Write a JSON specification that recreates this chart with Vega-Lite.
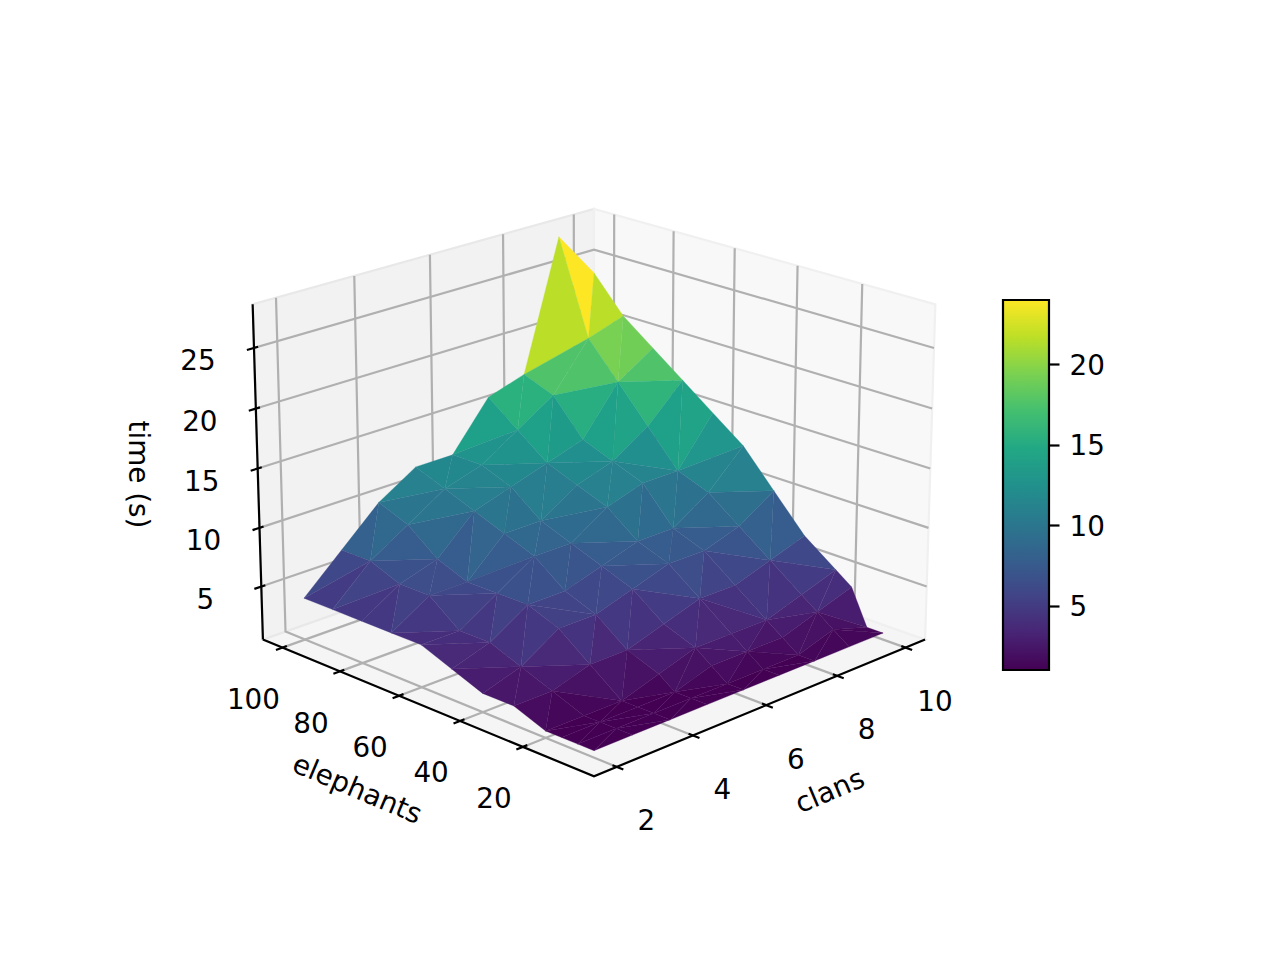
{"$schema":"https://vega.github.io/schema/vega-lite/v6.json","background":"white","padding":0,"spacing":0,"config":{"view":{"stroke":null},"text":{"font":"DejaVu Sans","fontSize":27.8,"fill":"black"},"axis":{"labelFont":"DejaVu Sans","labelFontSize":27.8,"labelColor":"black"}},
"datasets":{
"vertices":[
{"id":2100,"clans":2,"elephants":100,"time":4},{"id":3100,"clans":3,"elephants":100,"time":7},{"id":4100,"clans":4,"elephants":100,"time":10},{"id":5100,"clans":5,"elephants":100,"time":12},{"id":6100,"clans":6,"elephants":100,"time":12},{"id":7100,"clans":7,"elephants":100,"time":16},{"id":8100,"clans":8,"elephants":100,"time":17},{"id":9100,"clans":9,"elephants":100,"time":28},{"id":10100,"clans":10,"elephants":100,"time":24},
{"id":2090,"clans":2,"elephants":90,"time":4},{"id":3090,"clans":3,"elephants":90,"time":7},{"id":4090,"clans":4,"elephants":90,"time":9},{"id":5090,"clans":5,"elephants":90,"time":11},{"id":6090,"clans":6,"elephants":90,"time":12},{"id":7090,"clans":7,"elephants":90,"time":14},{"id":8090,"clans":8,"elephants":90,"time":16},{"id":9090,"clans":9,"elephants":90,"time":20},{"id":10090,"clans":10,"elephants":90,"time":21},
{"id":2080,"clans":2,"elephants":80,"time":4},{"id":3080,"clans":3,"elephants":80,"time":6},{"id":4080,"clans":4,"elephants":80,"time":7},{"id":5080,"clans":5,"elephants":80,"time":10},{"id":6080,"clans":6,"elephants":80,"time":11},{"id":7080,"clans":7,"elephants":80,"time":12},{"id":8080,"clans":8,"elephants":80,"time":13},{"id":9080,"clans":9,"elephants":80,"time":17},{"id":10080,"clans":10,"elephants":80,"time":19},
{"id":2070,"clans":2,"elephants":70,"time":4},{"id":3070,"clans":3,"elephants":70,"time":6},{"id":4070,"clans":4,"elephants":70,"time":6},{"id":5070,"clans":5,"elephants":70,"time":9},{"id":6070,"clans":6,"elephants":70,"time":9},{"id":7070,"clans":7,"elephants":70,"time":11},{"id":8070,"clans":8,"elephants":70,"time":12},{"id":9070,"clans":9,"elephants":70,"time":14},{"id":10070,"clans":10,"elephants":70,"time":17},
{"id":2060,"clans":2,"elephants":60,"time":4},{"id":3060,"clans":3,"elephants":60,"time":4},{"id":4060,"clans":4,"elephants":60,"time":6},{"id":5060,"clans":5,"elephants":60,"time":8},{"id":6060,"clans":6,"elephants":60,"time":8},{"id":7060,"clans":7,"elephants":60,"time":10},{"id":8060,"clans":8,"elephants":60,"time":11},{"id":9060,"clans":9,"elephants":60,"time":11},{"id":10060,"clans":10,"elephants":60,"time":15},
{"id":2050,"clans":2,"elephants":50,"time":3},{"id":3050,"clans":3,"elephants":50,"time":4},{"id":4050,"clans":4,"elephants":50,"time":6},{"id":5050,"clans":5,"elephants":50,"time":6},{"id":6050,"clans":6,"elephants":50,"time":7},{"id":7050,"clans":7,"elephants":50,"time":8},{"id":8050,"clans":8,"elephants":50,"time":8},{"id":9050,"clans":9,"elephants":50,"time":10},{"id":10050,"clans":10,"elephants":50,"time":13},
{"id":2040,"clans":2,"elephants":40,"time":2},{"id":3040,"clans":3,"elephants":40,"time":3},{"id":4040,"clans":4,"elephants":40,"time":5},{"id":5040,"clans":5,"elephants":40,"time":5},{"id":6040,"clans":6,"elephants":40,"time":6},{"id":7040,"clans":7,"elephants":40,"time":7},{"id":8040,"clans":8,"elephants":40,"time":7},{"id":9040,"clans":9,"elephants":40,"time":8},{"id":10040,"clans":10,"elephants":40,"time":10},
{"id":2030,"clans":2,"elephants":30,"time":2},{"id":3030,"clans":3,"elephants":30,"time":2},{"id":4030,"clans":4,"elephants":30,"time":3},{"id":5030,"clans":5,"elephants":30,"time":3},{"id":6030,"clans":6,"elephants":30,"time":4},{"id":7030,"clans":7,"elephants":30,"time":5},{"id":8030,"clans":8,"elephants":30,"time":5},{"id":9030,"clans":9,"elephants":30,"time":6},{"id":10030,"clans":10,"elephants":30,"time":7},
{"id":2020,"clans":2,"elephants":20,"time":1},{"id":3020,"clans":3,"elephants":20,"time":1},{"id":4020,"clans":4,"elephants":20,"time":1},{"id":5020,"clans":5,"elephants":20,"time":2},{"id":6020,"clans":6,"elephants":20,"time":3},{"id":7020,"clans":7,"elephants":20,"time":3},{"id":8020,"clans":8,"elephants":20,"time":3},{"id":9020,"clans":9,"elephants":20,"time":4},{"id":10020,"clans":10,"elephants":20,"time":5},
{"id":2015,"clans":2,"elephants":15,"time":1},{"id":3015,"clans":3,"elephants":15,"time":1},{"id":4015,"clans":4,"elephants":15,"time":1},{"id":5015,"clans":5,"elephants":15,"time":1},{"id":6015,"clans":6,"elephants":15,"time":2},{"id":7015,"clans":7,"elephants":15,"time":2},{"id":8015,"clans":8,"elephants":15,"time":2},{"id":9015,"clans":9,"elephants":15,"time":3},{"id":10015,"clans":10,"elephants":15,"time":4},
{"id":2010,"clans":2,"elephants":10,"time":1},{"id":3010,"clans":3,"elephants":10,"time":1},{"id":4010,"clans":4,"elephants":10,"time":1},{"id":5010,"clans":5,"elephants":10,"time":1},{"id":6010,"clans":6,"elephants":10,"time":1},{"id":7010,"clans":7,"elephants":10,"time":1},{"id":8010,"clans":8,"elephants":10,"time":1},{"id":9010,"clans":9,"elephants":10,"time":2},{"id":10010,"clans":10,"elephants":10,"time":1},
{"id":2005,"clans":2,"elephants":5,"time":1},{"id":3005,"clans":3,"elephants":5,"time":1},{"id":4005,"clans":4,"elephants":5,"time":1},{"id":5005,"clans":5,"elephants":5,"time":1},{"id":6005,"clans":6,"elephants":5,"time":1},{"id":7005,"clans":7,"elephants":5,"time":1},{"id":8005,"clans":8,"elephants":5,"time":1},{"id":9005,"clans":9,"elephants":5,"time":1},{"id":10005,"clans":10,"elephants":5,"time":1}
],
"triangles":[
{"v":[9100,10100,9090]},{"v":[10100,10090,9090]},{"v":[8100,9100,9090]},{"v":[8100,8090,9090]},{"v":[7100,8100,7090]},{"v":[8100,8090,7090]},{"v":[6100,7100,7090]},{"v":[6100,6090,7090]},{"v":[5100,6100,5090]},{"v":[6100,6090,5090]},{"v":[4100,5100,5090]},{"v":[4100,4090,5090]},{"v":[3100,4100,3090]},{"v":[4100,4090,3090]},{"v":[2100,3100,3090]},{"v":[2100,2090,3090]},
{"v":[9090,10090,9080]},{"v":[10090,10080,9080]},{"v":[8090,9090,9080]},{"v":[8090,8080,9080]},{"v":[7090,8090,7080]},{"v":[8090,8080,7080]},{"v":[6090,7090,7080]},{"v":[6090,6080,7080]},{"v":[5090,6090,6080]},{"v":[5090,5080,6080]},{"v":[4090,5090,5080]},{"v":[4090,4080,5080]},{"v":[3090,4090,4080]},{"v":[3090,3080,4080]},{"v":[2090,3090,3080]},{"v":[2090,2080,3080]},
{"v":[9080,10080,10070]},{"v":[9080,9070,10070]},{"v":[8080,9080,8070]},{"v":[9080,9070,8070]},{"v":[7080,8080,8070]},{"v":[7080,7070,8070]},{"v":[6080,7080,6070]},{"v":[7080,7070,6070]},{"v":[5080,6080,5070]},{"v":[6080,6070,5070]},{"v":[4080,5080,4070]},{"v":[5080,5070,4070]},{"v":[3080,4080,3070]},{"v":[4080,4070,3070]},{"v":[2080,3080,2070]},{"v":[3080,3070,2070]},
{"v":[9070,10070,9060]},{"v":[10070,10060,9060]},{"v":[8070,9070,9060]},{"v":[8070,8060,9060]},{"v":[7070,8070,7060]},{"v":[8070,8060,7060]},{"v":[6070,7070,7060]},{"v":[6070,6060,7060]},{"v":[5070,6070,5060]},{"v":[6070,6060,5060]},{"v":[4070,5070,5060]},{"v":[4070,4060,5060]},{"v":[3070,4070,4060]},{"v":[3070,3060,4060]},{"v":[2070,3070,3060]},{"v":[2070,2060,3060]},
{"v":[9060,10060,10050]},{"v":[9060,9050,10050]},{"v":[8060,9060,8050]},{"v":[9060,9050,8050]},{"v":[7060,8060,7050]},{"v":[8060,8050,7050]},{"v":[6060,7060,7050]},{"v":[6060,6050,7050]},{"v":[5060,6060,5050]},{"v":[6060,6050,5050]},{"v":[4060,5060,4050]},{"v":[5060,5050,4050]},{"v":[3060,4060,3050]},{"v":[4060,4050,3050]},{"v":[2060,3060,3050]},{"v":[2060,2050,3050]},
{"v":[9050,10050,10040]},{"v":[9050,9040,10040]},{"v":[8050,9050,9040]},{"v":[8050,8040,9040]},{"v":[7050,8050,7040]},{"v":[8050,8040,7040]},{"v":[6050,7050,7040]},{"v":[6050,6040,7040]},{"v":[5050,6050,5040]},{"v":[6050,6040,5040]},{"v":[4050,5050,5040]},{"v":[4050,4040,5040]},{"v":[3050,4050,3040]},{"v":[4050,4040,3040]},{"v":[2050,3050,3040]},{"v":[2050,2040,3040]},
{"v":[9040,10040,9030]},{"v":[10040,10030,9030]},{"v":[8040,9040,9030]},{"v":[8040,8030,9030]},{"v":[7040,8040,7030]},{"v":[8040,8030,7030]},{"v":[6040,7040,7030]},{"v":[6040,6030,7030]},{"v":[5040,6040,5030]},{"v":[6040,6030,5030]},{"v":[4040,5040,4030]},{"v":[5040,5030,4030]},{"v":[3040,4040,4030]},{"v":[3040,3030,4030]},{"v":[2040,3040,2030]},{"v":[3040,3030,2030]},
{"v":[9030,10030,10020]},{"v":[9030,9020,10020]},{"v":[8030,9030,8020]},{"v":[9030,9020,8020]},{"v":[7030,8030,8020]},{"v":[7030,7020,8020]},{"v":[6030,7030,6020]},{"v":[7030,7020,6020]},{"v":[5030,6030,6020]},{"v":[5030,5020,6020]},{"v":[4030,5030,4020]},{"v":[5030,5020,4020]},{"v":[3030,4030,4020]},{"v":[3030,3020,4020]},{"v":[2030,3030,2020]},{"v":[3030,3020,2020]},
{"v":[9020,10020,9015]},{"v":[10020,10015,9015]},{"v":[8020,9020,9015]},{"v":[8020,8015,9015]},{"v":[7020,8020,7015]},{"v":[8020,8015,7015]},{"v":[6020,7020,7015]},{"v":[6020,6015,7015]},{"v":[5020,6020,5015]},{"v":[6020,6015,5015]},{"v":[4020,5020,5015]},{"v":[4020,4015,5015]},{"v":[3020,4020,3015]},{"v":[4020,4015,3015]},{"v":[2020,3020,3015]},{"v":[2020,2015,3015]},
{"v":[9015,10015,10010]},{"v":[9015,9010,10010]},{"v":[8015,9015,8010]},{"v":[9015,9010,8010]},{"v":[7015,8015,8010]},{"v":[7015,7010,8010]},{"v":[6015,7015,6010]},{"v":[7015,7010,6010]},{"v":[5015,6015,6010]},{"v":[5015,5010,6010]},{"v":[4015,5015,4010]},{"v":[5015,5010,4010]},{"v":[3015,4015,4010]},{"v":[3015,3010,4010]},{"v":[2015,3015,2010]},{"v":[3015,3010,2010]},
{"v":[9010,10010,10005]},{"v":[9010,9005,10005]},{"v":[8010,9010,8005]},{"v":[9010,9005,8005]},{"v":[7010,8010,8005]},{"v":[7010,7005,8005]},{"v":[6010,7010,6005]},{"v":[7010,7005,6005]},{"v":[5010,6010,6005]},{"v":[5010,5005,6005]},{"v":[4010,5010,4005]},{"v":[5010,5005,4005]},{"v":[3010,4010,4005]},{"v":[3010,3005,4005]},{"v":[2010,3010,2005]},{"v":[3010,3005,2005]}
],
"frame":[
{"kind":"pane","g":"floor","s":1,"clans":1.4167,"elephants":-1.927,"time":0.4375},{"kind":"pane","g":"floor","s":2,"clans":10.5833,"elephants":-1.927,"time":0.4375},{"kind":"pane","g":"floor","s":3,"clans":10.5833,"elephants":106.927,"time":0.4375},{"kind":"pane","g":"floor","s":4,"clans":1.4167,"elephants":106.927,"time":0.4375},
{"kind":"pane","g":"left","s":1,"clans":1.4167,"elephants":106.927,"time":0.4375},{"kind":"pane","g":"left","s":2,"clans":10.5833,"elephants":106.927,"time":0.4375},{"kind":"pane","g":"left","s":3,"clans":10.5833,"elephants":106.927,"time":28.5625},{"kind":"pane","g":"left","s":4,"clans":1.4167,"elephants":106.927,"time":28.5625},
{"kind":"pane","g":"right","s":1,"clans":10.5833,"elephants":-1.927,"time":0.4375},{"kind":"pane","g":"right","s":2,"clans":10.5833,"elephants":106.927,"time":0.4375},{"kind":"pane","g":"right","s":3,"clans":10.5833,"elephants":106.927,"time":28.5625},{"kind":"pane","g":"right","s":4,"clans":10.5833,"elephants":-1.927,"time":28.5625},

{"kind":"grid","g":"c2","s":1,"clans":2,"elephants":-1.927,"time":0.4375},{"kind":"grid","g":"c2","s":2,"clans":2,"elephants":106.927,"time":0.4375},{"kind":"grid","g":"c2","s":3,"clans":2,"elephants":106.927,"time":28.5625},
{"kind":"grid","g":"c4","s":1,"clans":4,"elephants":-1.927,"time":0.4375},{"kind":"grid","g":"c4","s":2,"clans":4,"elephants":106.927,"time":0.4375},{"kind":"grid","g":"c4","s":3,"clans":4,"elephants":106.927,"time":28.5625},
{"kind":"grid","g":"c6","s":1,"clans":6,"elephants":-1.927,"time":0.4375},{"kind":"grid","g":"c6","s":2,"clans":6,"elephants":106.927,"time":0.4375},{"kind":"grid","g":"c6","s":3,"clans":6,"elephants":106.927,"time":28.5625},
{"kind":"grid","g":"c8","s":1,"clans":8,"elephants":-1.927,"time":0.4375},{"kind":"grid","g":"c8","s":2,"clans":8,"elephants":106.927,"time":0.4375},{"kind":"grid","g":"c8","s":3,"clans":8,"elephants":106.927,"time":28.5625},
{"kind":"grid","g":"c10","s":1,"clans":10,"elephants":-1.927,"time":0.4375},{"kind":"grid","g":"c10","s":2,"clans":10,"elephants":106.927,"time":0.4375},{"kind":"grid","g":"c10","s":3,"clans":10,"elephants":106.927,"time":28.5625},
{"kind":"grid","g":"e20","s":1,"clans":1.4167,"elephants":20,"time":0.4375},{"kind":"grid","g":"e20","s":2,"clans":10.5833,"elephants":20,"time":0.4375},{"kind":"grid","g":"e20","s":3,"clans":10.5833,"elephants":20,"time":28.5625},
{"kind":"grid","g":"e40","s":1,"clans":1.4167,"elephants":40,"time":0.4375},{"kind":"grid","g":"e40","s":2,"clans":10.5833,"elephants":40,"time":0.4375},{"kind":"grid","g":"e40","s":3,"clans":10.5833,"elephants":40,"time":28.5625},
{"kind":"grid","g":"e60","s":1,"clans":1.4167,"elephants":60,"time":0.4375},{"kind":"grid","g":"e60","s":2,"clans":10.5833,"elephants":60,"time":0.4375},{"kind":"grid","g":"e60","s":3,"clans":10.5833,"elephants":60,"time":28.5625},
{"kind":"grid","g":"e80","s":1,"clans":1.4167,"elephants":80,"time":0.4375},{"kind":"grid","g":"e80","s":2,"clans":10.5833,"elephants":80,"time":0.4375},{"kind":"grid","g":"e80","s":3,"clans":10.5833,"elephants":80,"time":28.5625},
{"kind":"grid","g":"e100","s":1,"clans":1.4167,"elephants":100,"time":0.4375},{"kind":"grid","g":"e100","s":2,"clans":10.5833,"elephants":100,"time":0.4375},{"kind":"grid","g":"e100","s":3,"clans":10.5833,"elephants":100,"time":28.5625},
{"kind":"grid","g":"t5","s":1,"clans":1.4167,"elephants":106.927,"time":5},{"kind":"grid","g":"t5","s":2,"clans":10.5833,"elephants":106.927,"time":5},{"kind":"grid","g":"t5","s":3,"clans":10.5833,"elephants":-1.927,"time":5},
{"kind":"grid","g":"t10","s":1,"clans":1.4167,"elephants":106.927,"time":10},{"kind":"grid","g":"t10","s":2,"clans":10.5833,"elephants":106.927,"time":10},{"kind":"grid","g":"t10","s":3,"clans":10.5833,"elephants":-1.927,"time":10},
{"kind":"grid","g":"t15","s":1,"clans":1.4167,"elephants":106.927,"time":15},{"kind":"grid","g":"t15","s":2,"clans":10.5833,"elephants":106.927,"time":15},{"kind":"grid","g":"t15","s":3,"clans":10.5833,"elephants":-1.927,"time":15},
{"kind":"grid","g":"t20","s":1,"clans":1.4167,"elephants":106.927,"time":20},{"kind":"grid","g":"t20","s":2,"clans":10.5833,"elephants":106.927,"time":20},{"kind":"grid","g":"t20","s":3,"clans":10.5833,"elephants":-1.927,"time":20},
{"kind":"grid","g":"t25","s":1,"clans":1.4167,"elephants":106.927,"time":25},{"kind":"grid","g":"t25","s":2,"clans":10.5833,"elephants":106.927,"time":25},{"kind":"grid","g":"t25","s":3,"clans":10.5833,"elephants":-1.927,"time":25},

{"kind":"axis","g":"ground","s":1,"clans":1.4167,"elephants":106.927,"time":0.4375},{"kind":"axis","g":"ground","s":2,"clans":1.4167,"elephants":-1.927,"time":0.4375},{"kind":"axis","g":"ground","s":3,"clans":10.5833,"elephants":-1.927,"time":0.4375},
{"kind":"axis","g":"vert","s":1,"clans":1.4167,"elephants":106.927,"time":0.4375},{"kind":"axis","g":"vert","s":2,"clans":1.4167,"elephants":106.927,"time":28.5625},

{"kind":"tick","g":"c2","s":1,"clans":2,"elephants":-3.93,"time":0.4375},{"kind":"tick","g":"c2","s":2,"clans":2,"elephants":-0.63,"time":0.4375},
{"kind":"tick","g":"c4","s":1,"clans":4,"elephants":-3.93,"time":0.4375},{"kind":"tick","g":"c4","s":2,"clans":4,"elephants":-0.63,"time":0.4375},
{"kind":"tick","g":"c6","s":1,"clans":6,"elephants":-3.93,"time":0.4375},{"kind":"tick","g":"c6","s":2,"clans":6,"elephants":-0.63,"time":0.4375},
{"kind":"tick","g":"c8","s":1,"clans":8,"elephants":-3.93,"time":0.4375},{"kind":"tick","g":"c8","s":2,"clans":8,"elephants":-0.63,"time":0.4375},
{"kind":"tick","g":"c10","s":1,"clans":10,"elephants":-3.93,"time":0.4375},{"kind":"tick","g":"c10","s":2,"clans":10,"elephants":-0.63,"time":0.4375},
{"kind":"tick","g":"e20","s":1,"clans":1.25,"elephants":20,"time":0.4375},{"kind":"tick","g":"e20","s":2,"clans":1.53,"elephants":20,"time":0.4375},
{"kind":"tick","g":"e40","s":1,"clans":1.25,"elephants":40,"time":0.4375},{"kind":"tick","g":"e40","s":2,"clans":1.53,"elephants":40,"time":0.4375},
{"kind":"tick","g":"e60","s":1,"clans":1.25,"elephants":60,"time":0.4375},{"kind":"tick","g":"e60","s":2,"clans":1.53,"elephants":60,"time":0.4375},
{"kind":"tick","g":"e80","s":1,"clans":1.25,"elephants":80,"time":0.4375},{"kind":"tick","g":"e80","s":2,"clans":1.53,"elephants":80,"time":0.4375},
{"kind":"tick","g":"e100","s":1,"clans":1.25,"elephants":100,"time":0.4375},{"kind":"tick","g":"e100","s":2,"clans":1.53,"elephants":100,"time":0.4375},
{"kind":"tick","g":"t5","s":1,"clans":1.24,"elephants":106.927,"time":5},{"kind":"tick","g":"t5","s":2,"clans":1.52,"elephants":106.927,"time":5},
{"kind":"tick","g":"t10","s":1,"clans":1.24,"elephants":106.927,"time":10},{"kind":"tick","g":"t10","s":2,"clans":1.52,"elephants":106.927,"time":10},
{"kind":"tick","g":"t15","s":1,"clans":1.24,"elephants":106.927,"time":15},{"kind":"tick","g":"t15","s":2,"clans":1.52,"elephants":106.927,"time":15},
{"kind":"tick","g":"t20","s":1,"clans":1.24,"elephants":106.927,"time":20},{"kind":"tick","g":"t20","s":2,"clans":1.52,"elephants":106.927,"time":20},
{"kind":"tick","g":"t25","s":1,"clans":1.24,"elephants":106.927,"time":25},{"kind":"tick","g":"t25","s":2,"clans":1.52,"elephants":106.927,"time":25},

{"kind":"labelc","label":"2","clans":2,"elephants":-1.927,"time":0.4375},{"kind":"labelc","label":"4","clans":4,"elephants":-1.927,"time":0.4375},{"kind":"labelc","label":"6","clans":6,"elephants":-1.927,"time":0.4375},{"kind":"labelc","label":"8","clans":8,"elephants":-1.927,"time":0.4375},{"kind":"labelc","label":"10","clans":10,"elephants":-1.927,"time":0.4375},
{"kind":"labele","label":"20","clans":1.4167,"elephants":20,"time":0.4375},{"kind":"labele","label":"40","clans":1.4167,"elephants":40,"time":0.4375},{"kind":"labele","label":"60","clans":1.4167,"elephants":60,"time":0.4375},{"kind":"labele","label":"80","clans":1.4167,"elephants":80,"time":0.4375},{"kind":"labele","label":"100","clans":1.4167,"elephants":100,"time":0.4375},
{"kind":"labelt","label":"5","clans":1.4167,"elephants":106.927,"time":5},{"kind":"labelt","label":"10","clans":1.4167,"elephants":106.927,"time":10},{"kind":"labelt","label":"15","clans":1.4167,"elephants":106.927,"time":15},{"kind":"labelt","label":"20","clans":1.4167,"elephants":106.927,"time":20},{"kind":"labelt","label":"25","clans":1.4167,"elephants":106.927,"time":25},
{"kind":"titlec","label":"clans","clans":6,"elephants":-1.927,"time":0.4375},
{"kind":"titlee","label":"elephants","clans":1.4167,"elephants":52.5,"time":0.4375},
{"kind":"titlet","label":"time (s)","clans":1.4167,"elephants":106.927,"time":14.5}
],
"bar":[{"lo":1,"hi":24}]
},
"hconcat":[
{"width":1001,"height":960,"data":{"name":"frame"},
"transform":[
{"calculate":"(datum.clans-1.4167)/9.1667","as":"a"},{"calculate":"(datum.elephants+1.927)/108.854","as":"b"},{"calculate":"(datum.time-0.4375)/28.125-0.5","as":"h"},
{"calculate":"10+0.7909*(datum.a+datum.b-1)-0.3054*datum.h","as":"d"},
{"calculate":"594+3994*0.8416*(datum.a-datum.b)/datum.d","as":"px"},
{"calculate":"474.5-3994*(0.2878*(datum.a+datum.b-1)+0.8391*datum.h)/datum.d","as":"py"}],
"encoding":{"x":{"field":"px","type":"quantitative","axis":null,"scale":{"domain":[0,1001],"range":[0,1001]}},"y":{"field":"py","type":"quantitative","axis":null,"scale":{"domain":[0,960],"range":[0,960]}}},
"layer":[
{"transform":[{"filter":"datum.kind=='pane'"}],"mark":{"type":"line","interpolate":"linear-closed","strokeWidth":2.2},"encoding":{"order":{"field":"s","type":"quantitative"},"detail":{"field":"g"},"fill":{"field":"g","type":"nominal","legend":null,"scale":{"domain":["floor","left","right"],"range":["#f5f5f5","#f2f2f2","#f8f8f8"]}},"stroke":{"field":"g","type":"nominal","legend":null,"scale":{"domain":["floor","left","right"],"range":["#ebebeb","#e8e8e8","#f0f0f0"]}}}},
{"transform":[{"filter":"datum.kind=='grid'"}],"mark":{"type":"line","stroke":"#b0b0b0","strokeWidth":2.2},"encoding":{"order":{"field":"s","type":"quantitative"},"detail":{"field":"g"}}},
{"transform":[{"filter":"datum.kind=='axis'"}],"mark":{"type":"line","stroke":"black","strokeWidth":2.2},"encoding":{"order":{"field":"s","type":"quantitative"},"detail":{"field":"g"}}},
{"transform":[{"filter":"datum.kind=='tick'"}],"mark":{"type":"line","stroke":"black","strokeWidth":2.2},"encoding":{"order":{"field":"s","type":"quantitative"},"detail":{"field":"g"}}},
{"transform":[{"filter":"datum.kind=='labelc'"}],"mark":{"type":"text","dx":29.5,"dy":55.5},"encoding":{"text":{"field":"label"}}},
{"transform":[{"filter":"datum.kind=='labele'"}],"mark":{"type":"text","dx":-29,"dy":53.5},"encoding":{"text":{"field":"label"}}},
{"transform":[{"filter":"datum.kind=='labelt'"}],"mark":{"type":"text","dx":-56,"dy":14.5},"encoding":{"text":{"field":"label"}}},
{"transform":[{"filter":"datum.kind=='titlec'"}],"mark":{"type":"text","dx":24.9,"dy":105.1,"angle":337},"encoding":{"text":{"field":"label"}}},
{"transform":[{"filter":"datum.kind=='titlee'"}],"mark":{"type":"text","dx":-26.6,"dy":103.6,"angle":23},"encoding":{"text":{"field":"label"}}},
{"transform":[{"filter":"datum.kind=='titlet'"}],"mark":{"type":"text","dx":0,"dy":121,"angle":90},"encoding":{"text":{"field":"label"}}},
{"data":{"name":"triangles"},
"transform":[
{"window":[{"op":"row_number","as":"t"}]},
{"flatten":["v"]},
{"lookup":"v","from":{"data":{"name":"vertices"},"key":"id","fields":["clans","elephants","time"]}},
{"joinaggregate":[{"op":"mean","field":"time","as":"m"}],"groupby":["t"]},
{"calculate":"(datum.clans-1.4167)/9.1667","as":"a"},{"calculate":"(datum.elephants+1.927)/108.854","as":"b"},{"calculate":"(datum.time-0.4375)/28.125-0.5","as":"h"},
{"calculate":"10+0.7909*(datum.a+datum.b-1)-0.3054*datum.h","as":"d"},
{"calculate":"594+3994*0.8416*(datum.a-datum.b)/datum.d","as":"px"},
{"calculate":"474.5-3994*(0.2878*(datum.a+datum.b-1)+0.8391*datum.h)/datum.d","as":"py"}],
"mark":{"type":"line","interpolate":"linear-closed","strokeWidth":0.3},
"encoding":{"detail":{"field":"t"},"fill":{"field":"m","type":"quantitative","legend":null,"scale":{"scheme":"viridis","domain":[1,24]}},"stroke":{"field":"m","type":"quantitative","legend":null,"scale":{"scheme":"viridis","domain":[1,24]}}}}
]},
{"width":46,"height":960,"data":{"name":"bar"},
"mark":{"type":"rect","stroke":"black","strokeWidth":2.2,"fill":{"x1":0,"y1":1,"x2":0,"y2":0,"gradient":"linear","stops":[{"offset":0,"color":"#440154"},{"offset":0.1,"color":"#482475"},{"offset":0.2,"color":"#414487"},{"offset":0.3,"color":"#355f8d"},{"offset":0.4,"color":"#2a788e"},{"offset":0.5,"color":"#21918c"},{"offset":0.6,"color":"#22a884"},{"offset":0.7,"color":"#44bf70"},{"offset":0.8,"color":"#7ad151"},{"offset":0.9,"color":"#bddf26"},{"offset":1,"color":"#fde725"}]}},
"encoding":{"x":{"value":0},"x2":{"value":46},
"y":{"field":"lo","type":"quantitative","scale":{"domain":[1,24],"range":[670,300]},"axis":{"orient":"right","title":null,"grid":false,"domain":false,"values":[5,10,15,20],"tickSize":10,"tickWidth":2.2,"tickColor":"black","labelPadding":10,"labelOffset":2}},
"y2":{"field":"hi"}}}
]}
